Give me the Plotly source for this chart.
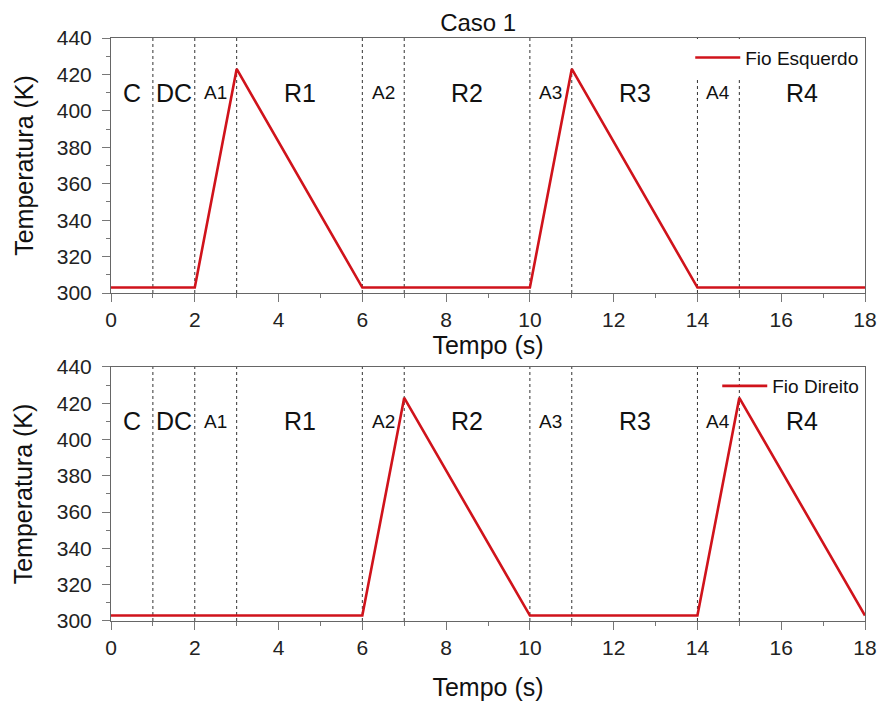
import plotly.graph_objects as go
from plotly.subplots import make_subplots

# Data
t_esq = [0, 2, 3, 6, 10, 11, 14, 18]
T_esq = [303, 303, 423, 303, 303, 423, 303, 303]
t_dir = [0, 6, 7, 10, 14, 15, 18]
T_dir = [303, 303, 423, 303, 303, 423, 303]
phase_bounds = [1, 2, 3, 6, 7, 10, 11, 14, 15]
top_labels = ["C", "DC", "A1", "R1", "A2", "R2", "A3", "R3", "A4", "R4"]
label_x = [0.5, 1.5, 2.5, 4.5, 6.5, 8.5, 10.5, 12.5, 14.5, 16.5]
label_big = [True, True, False, True, False, True, False, True, False, True]
label_y = 410

RED = "#d0131b"
FONT = "Liberation Sans, Arial, sans-serif"

fig = make_subplots(rows=2, cols=1, vertical_spacing=0.0)

fig.add_trace(go.Scatter(x=t_esq, y=T_esq, mode="lines", name="Fio Esquerdo",
                         line=dict(color=RED, width=2.6), legend="legend"), row=1, col=1)
fig.add_trace(go.Scatter(x=t_dir, y=T_dir, mode="lines", name="Fio Direito",
                         line=dict(color=RED, width=2.6), legend="legend2"), row=2, col=1)

for r in (1, 2):
    for xb in phase_bounds:
        fig.add_vline(x=xb, line=dict(color="#333", width=1, dash="3px,3px"),
                      layer="below", row=r, col=1)
    for lab, lx, big in zip(top_labels, label_x, label_big):
        fig.add_annotation(x=lx, y=label_y, text=lab, showarrow=False,
                           font=dict(size=25 if big else 19, color="#111", family=FONT),
                           xref=f"x{'' if r == 1 else r}", yref=f"y{'' if r == 1 else r}")

axis_common = dict(showgrid=False, zeroline=False, showline=True, linecolor="#666",
                   linewidth=1, mirror=True, ticks="outside", ticklen=8, tickcolor="#777",
                   automargin=False,
                   tickfont=dict(size=21, color="#222", family=FONT))
x_standoffs = {1: 2, 2: 20}
for r in (1, 2):
    fig.update_xaxes(range=[0, 18], dtick=2, tick0=0,
                     minor=dict(ticks="outside", ticklen=4, dtick=1, tickcolor="#777"),
                     title=dict(text="Tempo (s)", font=dict(size=25, color="#111", family=FONT),
                                standoff=x_standoffs[r]),
                     row=r, col=1, **axis_common)
    fig.update_yaxes(range=[300, 440], dtick=20, tick0=300,
                     minor=dict(ticks="outside", ticklen=4, dtick=10, tickcolor="#777"),
                     ticklabelstandoff=6,
                     title=dict(text="Temperatura (K)", font=dict(size=25, color="#111", family=FONT),
                                standoff=16),
                     row=r, col=1, **axis_common)

fig.update_layout(
    yaxis=dict(domain=[0.5626, 1.0]),
    yaxis2=dict(domain=[0.0, 0.4357]),
    width=880, height=707,
    margin=dict(l=111, r=15, t=38, b=86),
    paper_bgcolor="white", plot_bgcolor="white",
    title=dict(text="Caso 1", xref="paper", x=0.487, xanchor="center", y=0.968, yanchor="middle",
               font=dict(size=24, color="#111", family=FONT)),
    showlegend=True,
    legend=dict(x=0.999, y=0.999, xanchor="right", yanchor="top", xref="paper", yref="paper",
                bgcolor="white", font=dict(size=19, color="#111", family=FONT),
                itemwidth=45, borderwidth=0, tracegroupgap=0),
    legend2=dict(x=0.999, y=0.4357, xanchor="right", yanchor="top", xref="paper", yref="paper",
                 bgcolor="rgba(255,255,255,0)", font=dict(size=19, color="#111", family=FONT),
                 itemwidth=45, borderwidth=0),
)

fig.write_html("out.html", config={"displayModeBar": False},
               post_script="document.body.style.margin='0';")
